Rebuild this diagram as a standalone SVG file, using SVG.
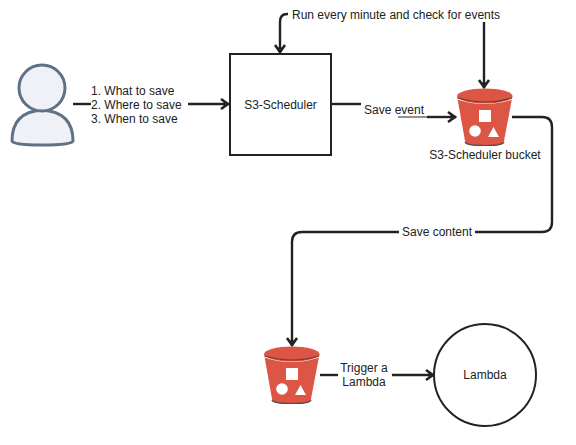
<svg xmlns="http://www.w3.org/2000/svg" width="576" height="445" viewBox="0 0 576 445">
<style>
text{font-family:"Liberation Sans",Arial,sans-serif;font-size:12px;fill:#222}
.c{fill:none;stroke:#222;stroke-width:2.4}
.t{fill:none;stroke:#222;stroke-width:1}
.n{fill:#fff;stroke:#222;stroke-width:2}
.w{fill:#fff}
.r{fill:#dc5545}
</style>
<defs>
<marker id="arrow" markerUnits="userSpaceOnUse" markerWidth="14" markerHeight="14" refX="11" refY="7" orient="auto">
<path d="M3 2L10 7L3 12" fill="none" stroke="#222" stroke-width="2.600"/>
<path d="M4 7L6 5L11 7L6 9Z" fill="#222"/>
</marker>
<g id="bucket">
<path class="r" d="M0 7L8 52Q8 57 28 57Q47 57 47 52L55.500 7Q28 17 0 7Z"/>
<path d="M8 53Q9 56.500 28 56.500Q46 56.500 47 53" fill="none" stroke="#5a4a48" stroke-width="1.200"/>
<path d="M0.500 10Q28 19 55 10" fill="none" stroke="#fff" stroke-width="1.200"/>
<ellipse class="r" cx="27.800" cy="7" rx="27.800" ry="7.500"/>
<path d="M1 9Q28 17 55 9" fill="none" stroke="#6b3c36" stroke-width="1.200"/>
<rect class="w" x="22" y="21" width="12" height="12"/>
<circle class="w" cx="18" cy="42" r="5.800"/>
<path class="w" d="M31 48L36.500 38L42 48Z"/>
</g>
</defs>
<g id="connectors">
<path class="c" d="M73 104H91"/>
<path class="c" d="M188 104H229" marker-end="url(#arrow)"/>
<path class="c" d="M331 104H361"/>
<path class="t" d="M398 117H427"/>
<path class="c" d="M427 117H456" marker-end="url(#arrow)"/>
<path class="c" d="M484 22V88" marker-end="url(#arrow)"/>
<path class="c" d="M288 14H287Q280 14 280 22V53" marker-end="url(#arrow)"/>
<path class="c" d="M512 117H542Q552 117 552 127V222Q552 232 542 232H475"/>
<path class="c" d="M399 232H302Q292 232 292 242V346" marker-end="url(#arrow)"/>
<path class="c" d="M320 375H338"/>
<path class="c" d="M392 375H434" marker-end="url(#arrow)"/>
</g>
<g id="user">
<path d="M12 141Q12 112 42 110Q73 112 73 141Q73 145 42 145Q12 145 12 141Z" fill="#eff1f6" stroke="#5f7187" stroke-width="3"/>
<circle cx="42" cy="88" r="23" fill="#eff1f6" stroke="#5f7187" stroke-width="3"/>
<text x="91" y="94.500">1. What to save</text>
<text x="91" y="108.500">2. Where to save</text>
<text x="91" y="122.500">3. When to save</text>
</g>
<g id="scheduler">
<rect class="n" x="230" y="54" width="101" height="101"/>
<text x="280.500" y="109" text-anchor="middle">S3-Scheduler</text>
</g>
<text x="292" y="19">Run every minute and check for events</text>
<text x="364" y="114">Save event</text>
<g id="bucket1">
<use href="#bucket" x="457" y="89"/>
<text x="485" y="159" text-anchor="middle">S3-Scheduler bucket</text>
</g>
<text x="402" y="236">Save content</text>
<g id="bucket2">
<use href="#bucket" x="264" y="347"/>
</g>
<text x="364" y="372" text-anchor="middle">Trigger a</text>
<text x="364" y="386" text-anchor="middle">Lambda</text>
<g id="lambda">
<circle class="n" cx="485" cy="375" r="51"/>
<text x="485" y="379" text-anchor="middle">Lambda</text>
</g>
</svg>
